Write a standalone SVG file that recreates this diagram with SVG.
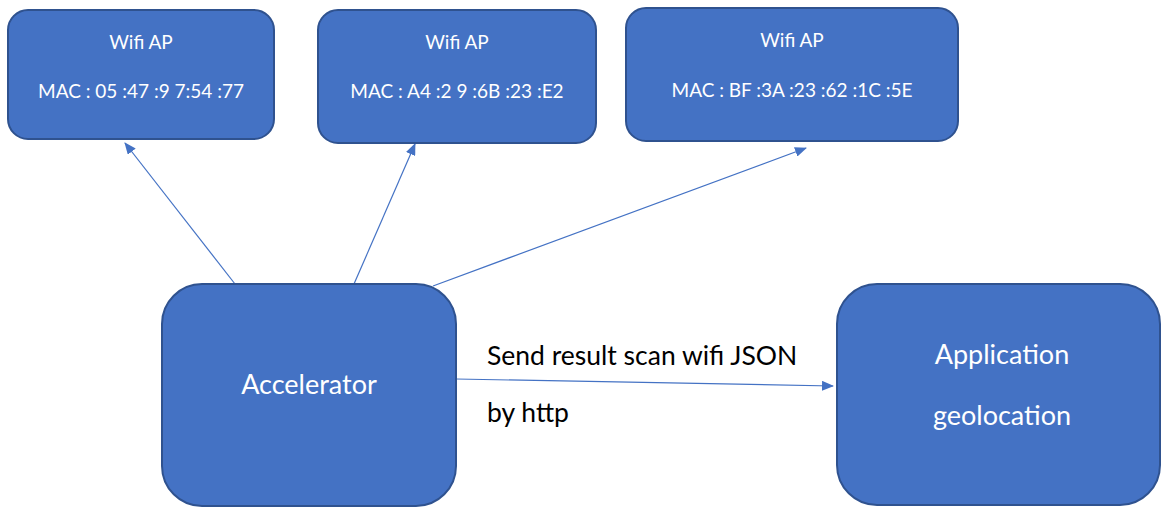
<svg xmlns="http://www.w3.org/2000/svg" width="1161" height="507" viewBox="0 0 1161 507">
<style>
.box{fill:#4472C4;stroke:#2F528F;stroke-width:2}
.t{fill:#fff;font-family:Lato,"Open Sans","Liberation Sans",sans-serif;text-anchor:middle}
.s{font-size:19px}
.b{font-size:27px}
.lbl{fill:#000;font-family:Lato,"Open Sans","Liberation Sans",sans-serif;font-size:26.5px}
.c{stroke:#4472C4;stroke-width:1.2;fill:none;marker-end:url(#ah)}
</style>
<defs>
<marker id="ah" markerWidth="12" markerHeight="10" refX="11" refY="5" orient="auto" markerUnits="userSpaceOnUse">
<path d="M0,0 L12,5 L0,10 Z" fill="#4472C4"/>
</marker>
</defs>
<rect width="1161" height="507" fill="#fff"/>
<g id="connectors">
<line class="c" x1="235" y1="284" x2="125" y2="143"/>
<line class="c" x1="354" y1="284" x2="415" y2="144"/>
<line class="c" x1="433" y1="286" x2="806" y2="148"/>
<line class="c" x1="456" y1="379" x2="833" y2="386"/>
</g>
<g id="ap1">
<rect class="box" x="8" y="10" width="266" height="129" rx="20"/>
<text class="t s" x="141" y="49">Wifi AP</text>
<text class="t s" x="141" y="98">MAC : 05 :47 :9 7:54 :77</text>
</g>
<g id="ap2">
<rect class="box" x="318" y="10" width="278" height="133" rx="20"/>
<text class="t s" x="457" y="49">Wifi AP</text>
<text class="t s" x="457" y="98">MAC : A4 :2 9 :6B :23 :E2</text>
</g>
<g id="ap3">
<rect class="box" x="626" y="8" width="332" height="133" rx="20"/>
<text class="t s" x="792" y="47">Wifi AP</text>
<text class="t s" x="792" y="97">MAC : BF :3A :23 :62 :1C :5E</text>
</g>
<g id="accelerator">
<rect class="box" x="162" y="284" width="294" height="222" rx="40"/>
<text class="t b" x="309" y="394">Accelerator</text>
</g>
<g id="application">
<rect class="box" x="837" y="284" width="323" height="221" rx="40"/>
<text class="t b" x="1002" y="364">Application</text>
<text class="t b" x="1002" y="425">geolocation</text>
</g>
<g id="labels">
<text class="lbl" x="487" y="365">Send result scan wifi JSON</text>
<text class="lbl" x="487" y="422">by http</text>
</g>
</svg>
